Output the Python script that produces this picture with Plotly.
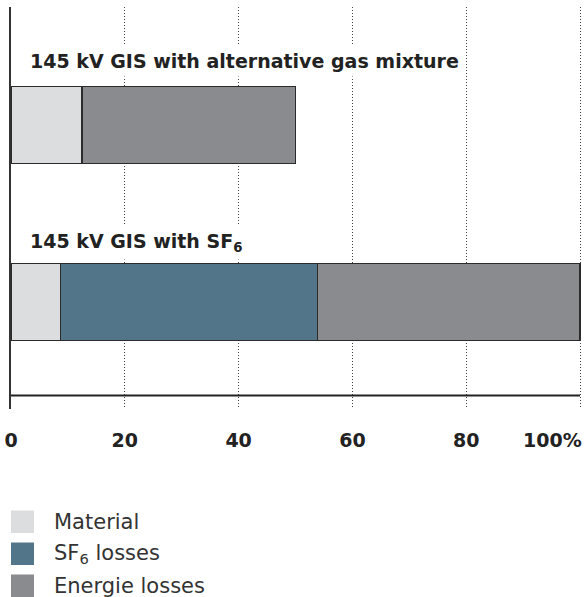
import plotly.graph_objects as go

# ---- data ----
categories = ["145 kV GIS with SF<sub>6</sub>", "145 kV GIS with alternative gas mixture"]
material = [8.7, 12.5]
sf6_losses = [45.2, None]
energy_losses = [46.1, 37.5]
series_names = ["Material", "SF<sub>6</sub> losses", "Energie losses"]
series_colors = ["#dcdddf", "#527589", "#8a8b8f"]
tick_values = [0, 20, 40, 60, 80, 100]
tick_labels = ["0", "20", "40", "60", "80", "100%"]

FONT = "DejaVu Sans"
TXT = "#222222"
TICKFONT = dict(family=FONT, size=19, color=TXT, weight="bold")

fig = go.Figure()
for name, vals, col in zip(series_names, [material, sf6_losses, energy_losses], series_colors):
    fig.add_trace(go.Bar(
        y=categories, x=vals, name=name, orientation="h",
        marker=dict(color=col, line=dict(color="#2b2b2b", width=1.5)),
        width=0.435, showlegend=False,
    ))

# last tick label is right-aligned to its tick (drawn as annotation below)
ticktext = tick_labels[:-1] + [""]

fig.update_layout(
    width=585, height=597,
    margin=dict(l=11, r=3, t=7, b=188, autoexpand=False),
    paper_bgcolor="white", plot_bgcolor="white",
    barmode="stack",
    font=dict(family=FONT, color=TXT),
    xaxis=dict(
        range=[0, 100.35], tickvals=tick_values, ticktext=ticktext,
        showgrid=True, gridcolor="#444444", gridwidth=1, griddash="1px,2px",
        zeroline=False, showline=False, ticks="", automargin=False,
        ticklabeloverflow="allow",
        tickfont=TICKFONT,
        ticklabelstandoff=18,
    ),
    yaxis=dict(
        type="category", categoryorder="array", categoryarray=categories,
        range=[-0.6045, 1.667], showticklabels=False, ticks="",
        showgrid=False, zeroline=False, automargin=False,
        showline=True, linecolor="#333333", linewidth=2,
    ),
)

# manual positions in page pixels -> paper coords
plot_left, plot_right, plot_top, plot_bot = 11, 582, 7, 409
def py(p):
    return (plot_bot - p) / (plot_bot - plot_top)
def px(p):
    return (p - plot_left) / (plot_right - plot_left)

# x-axis baseline
fig.add_shape(type="line", xref="x", yref="y", x0=tick_values[0], x1=tick_values[-1],
              y0=-0.528, y1=-0.528, line=dict(color="#222222", width=2), layer="above")

# last tick label, right-aligned at the 100 tick
fig.add_annotation(x=tick_values[-1], y=py(440), xref="x", yref="paper",
                   text=tick_labels[-1], showarrow=False, xanchor="right", yanchor="middle",
                   xshift=4, font=TICKFONT)

# category labels above bars
label_offsets = [0.339, 0.362]
for i, cat in enumerate(categories):
    fig.add_annotation(
        x=2.46, y=i + label_offsets[i], xref="x", yref="y",
        text=cat, showarrow=False, xanchor="left", yanchor="middle",
        font=dict(family=FONT, size=19, color=TXT, weight="bold"),
        bgcolor="white", borderpad=4,
    )

# manual legend
for k, (name, col) in enumerate(zip(series_names, series_colors)):
    top = 510.5 + k * 32
    fig.add_shape(type="rect", xref="paper", yref="paper",
                  x0=px(11), x1=px(34), y0=py(top + 22.5), y1=py(top),
                  fillcolor=col, line=dict(width=0))
    fig.add_annotation(x=px(52), y=py(top + 11), xref="paper", yref="paper",
                       text=name, showarrow=False, xanchor="left", yanchor="middle",
                       font=dict(family=FONT, size=21, color="#333333"))

fig.write_html(
    "out.html",
    config=dict(displayModeBar=False),
    post_script="document.body.style.margin='0';document.documentElement.style.overflow='hidden';",
)
